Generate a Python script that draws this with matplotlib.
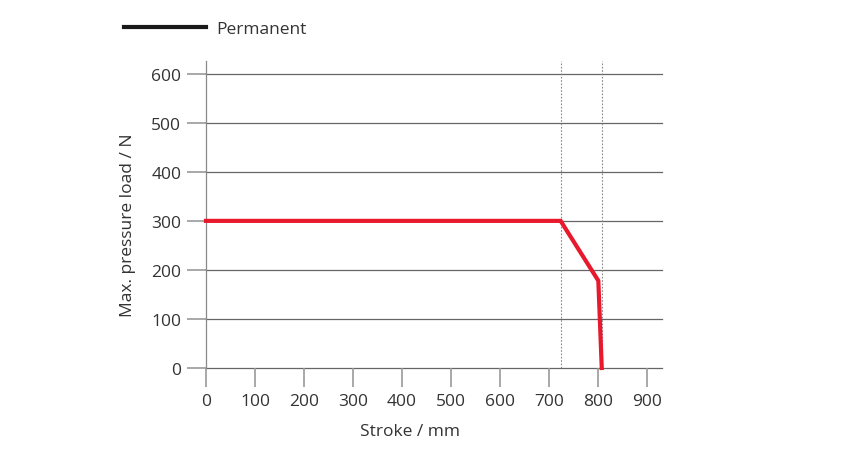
import matplotlib.pyplot as plt
from matplotlib.lines import Line2D

# curve points
stroke = [0, 724, 801, 808]
load = [300, 300, 178, 0]
# dotted reference lines
ref_x = [724, 809]

xticks = [0, 100, 200, 300, 400, 500, 600, 700, 800, 900]
yticks = [0, 100, 200, 300, 400, 500, 600]

plt.rcParams['font.family'] = ['Open Sans', 'DejaVu Sans']
plt.rcParams['font.size'] = 12.5

fig = plt.figure(figsize=(8.45, 4.56), dpi=100)
ax = fig.add_axes([206/845, 1-369/456, (662-206)/845, (369-62)/456])

ax.set_xlim(0, 931)
ax.set_ylim(0, 626)

for y in yticks:
    ax.axhline(y, color='#666666', lw=0.9, zorder=1, clip_on=False)
for x in ref_x:
    ax.axvline(x, color='#888888', lw=0.8, ls=(0, (1.5, 1.5)), zorder=1)

ax.plot(stroke, load, color='#e8192c', lw=3, zorder=3, solid_joinstyle='miter', clip_on=False)

for s in ['top', 'right', 'bottom']:
    ax.spines[s].set_visible(False)
ax.spines['left'].set_color('#888888')
ax.spines['left'].set_linewidth(0.9)

ax.set_xticks(xticks)
ax.set_yticks(yticks)
ax.tick_params(axis='both', colors='#999999', labelcolor='#333333', width=1.2, length=14, pad=3.8)

ax.set_xlabel('Stroke / mm', color='#333333')
ax.set_ylabel('Max. pressure load / N', color='#333333')
ax.xaxis.set_label_coords((410-206)/456, (369-424)/307)
ax.yaxis.set_label_coords((136-206)/456, (369-225)/307)

# legend drawn like the original (black sample line)
handle = Line2D([], [], color='#1a1a1a', lw=3)
fig.legend([handle], ['Permanent'], loc='center left', bbox_to_anchor=(108/845, 1-30/456),
           frameon=False, handlelength=4.75, handletextpad=0.6, fontsize=12.5,
           labelcolor='#333333')

plt.savefig('out.png', dpi=100)
